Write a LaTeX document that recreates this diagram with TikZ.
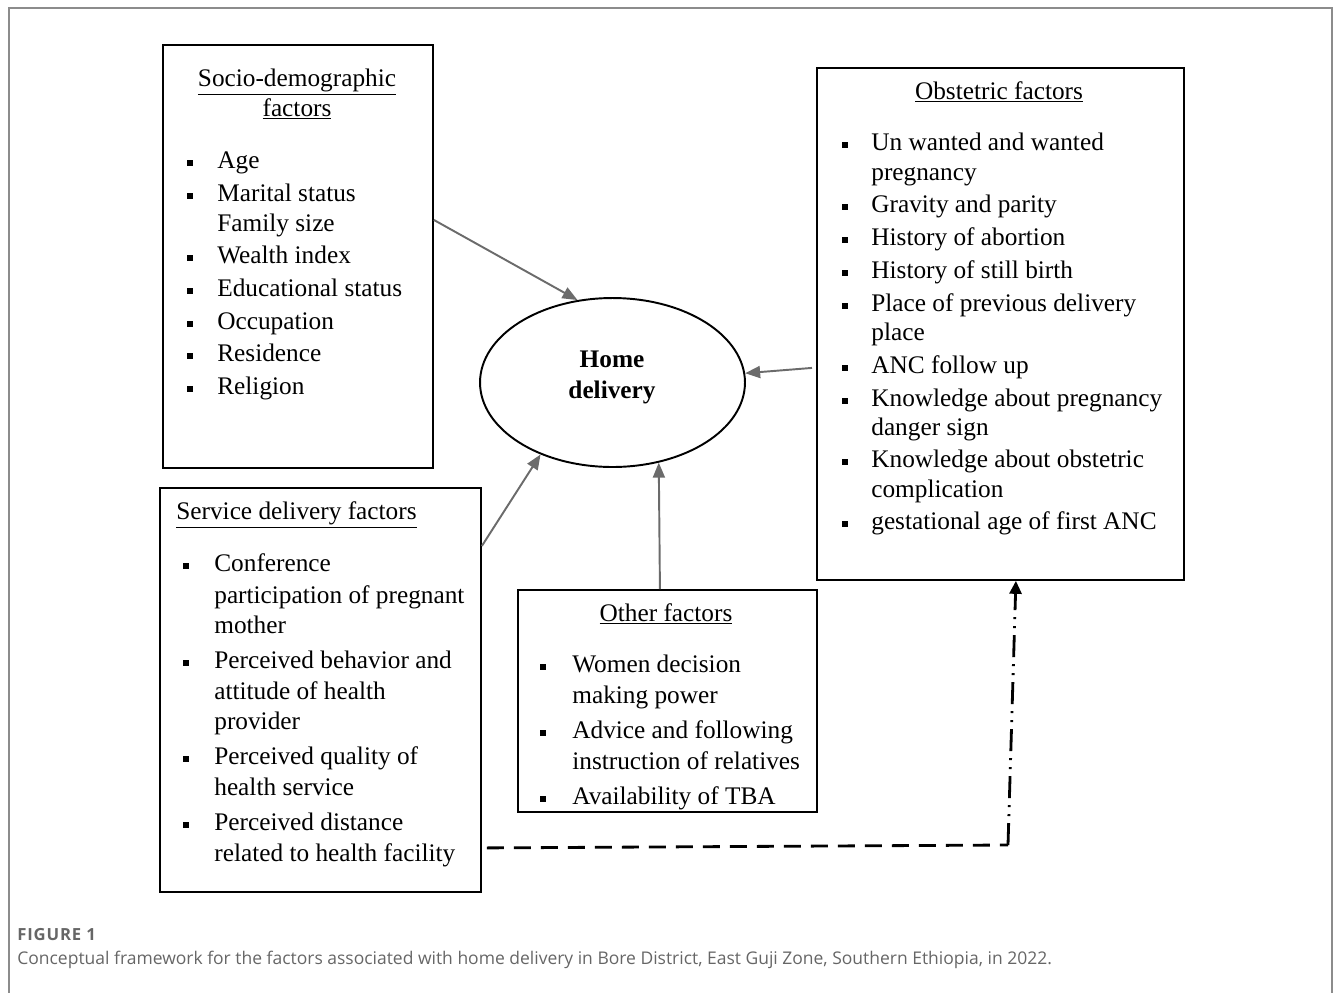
\documentclass[tikz,border=0pt]{standalone}
\usepackage{fontspec}
\setmainfont{Liberation Serif}
\newfontfamily\capfont{Open Sans}
\newfontfamily\figfont[LetterSpace=5]{Open Sans}
\usepackage{xcolor}
\usepackage{tikz}
\usetikzlibrary{arrows.meta,calc,positioning,shapes.geometric}
\definecolor{arrowgray}{HTML}{6B6B6B}
\definecolor{framegray}{HTML}{8C8C8C}
\definecolor{capgray}{HTML}{666666}
\tikzset{
  box/.style={draw, line width=1.1pt, anchor=north west, inner sep=0},
  txt/.style={anchor=base west, inner sep=0, font=\fontsize{14.4}{17.4}\selectfont},
  ttl/.style={anchor=base, inner sep=0, font=\fontsize{14.4}{17.4}\selectfont},
  bul/.style={fill, minimum size=0.12cm, inner sep=0},
  toarrow/.style={arrowgray, line width=1.1pt, -{Triangle[length=0.3cm,width=0.24cm]}},
  dashline/.style={line width=1.6pt, dash pattern=on 0.34cm off 0.2cm},
  dashdotline/.style={line width=1.6pt, dash pattern=on 0.44cm off 0.14cm on 0.04cm off 0.14cm on 0.04cm off 0.14cm, -{Triangle[length=0.26cm,width=0.24cm]}}
}
\begin{document}
\begin{tikzpicture}[x=0.02cm, y=-0.02cm]
			\useasboundingbox (0,0) rectangle (1333,992);
			\draw[framegray, line width=0.8pt] (9,1010) -- (9,8) -- (1332,8) -- (1332,1010);

			\node[box, minimum width=5.4cm, minimum height=8.46cm] (socio) at (162,44) {};
			\node[box, minimum width=7.34cm, minimum height=10.24cm] (obst) at (816,67) {};
			\node[box, minimum width=6.42cm, minimum height=8.08cm] (serv) at (159,487) {};
			\node[box, minimum width=5.98cm, minimum height=4.44cm] (other) at (517,589) {};
			\node[draw, ellipse, line width=1.1pt, minimum width=5.3cm, minimum height=3.38cm, inner sep=0] (home) at (612.5,382.5) {};

			\node[ttl, font=\fontsize{14.4}{17.4}\selectfont\bfseries] (homea) at (612,367) {Home};
			\node[ttl, font=\fontsize{14.4}{17.4}\selectfont\bfseries] (homeb) at (612,398) {delivery};

			\node[ttl] (sociot1) at (297,86) {\underline{Socio-demographic}};
			\node[ttl] (sociot2) at (297,116) {\underline{factors}};
			\foreach \y/\t [count=\i] in {168/Age, 201/Marital status, 231/Family size, 263/Wealth index, 296/Educational status, 329/Occupation, 361/Residence, 394/Religion}
				\node[txt] (s\i) at (217,\y) {\t};
			\foreach \y [count=\i] in {163,196,258,291,324,356,389}
				\node[bul] (sb\i) at (190,\y) {};

			\node[ttl] (obstt) at (999,99) {\underline{Obstetric factors}};
			\foreach \y/\t [count=\i] in {150/Un wanted and wanted, 180/pregnancy, 212/Gravity and parity, 245/History of abortion, 278/History of still birth, 311/Place of previous delivery, 340/place, 373/ANC follow up, 406/Knowledge about pregnancy, 435/danger sign, 467/Knowledge about obstetric, 497/complication, 529/gestational age of first ANC}
				\node[txt] (o\i) at (871,\y) {\t};
			\foreach \y [count=\i] in {145,207,240,273,306,368,401,462,524}
				\node[bul] (ob\i) at (845,\y) {};

			\node[txt] (servt) at (176,519) {\underline{Service delivery factors}};
			\foreach \y/\t [count=\i] in {571/Conference, 603/participation of pregnant, 633/mother, 668/Perceived behavior and, 699/attitude of health, 729/provider, 764/Perceived quality of, 795/health service, 830/Perceived distance, 861/related to health facility}
				\node[txt] (v\i) at (214,\y) {\t};
			\foreach \y [count=\i] in {566,663,759,825}
				\node[bul] (vb\i) at (186,\y) {};

			\node[ttl] (othert) at (666,621) {\underline{Other factors}};
			\foreach \y/\t [count=\i] in {672/Women decision, 703/making power, 738/Advice and following, 769/instruction of relatives, 804/Availability of TBA}
				\node[txt] (w\i) at (572,\y) {\t};
			\foreach \y [count=\i] in {667,733,799}
				\node[bul] (wb\i) at (543,\y) {};

			\draw[toarrow] ([yshift=0.73cm]socio.east) -- (home.113);
			\draw[toarrow] ([xshift=-0.08cm,yshift=-0.88cm]obst.west) -- (home.4);
			\draw[toarrow] ([yshift=2.88cm]serv.east) -- (home.225);
			\draw[toarrow] ([xshift=-0.15cm]other.north) -- (home.300);

			\coordinate (bend) at (1008,845);
			\draw[dashline] ([xshift=0.1cm,yshift=-3.16cm]serv.east) -- (bend);
			\draw[dashdotline] (bend) -- ([xshift=0.31cm]obst.south);

			\node[anchor=base west, inner sep=0, text=capgray, font=\figfont\bfseries\fontsize{9.5}{10}\selectfont] (figlbl) at (17,940) {FIGURE 1};
			\node[anchor=base west, inner sep=0, text=capgray, font=\capfont\fontsize{9.95}{12}\selectfont] (caption) at (17,964) {Conceptual framework for the factors associated with home delivery in Bore District, East Guji Zone, Southern Ethiopia, in 2022.};
\end{tikzpicture}
\end{document}
